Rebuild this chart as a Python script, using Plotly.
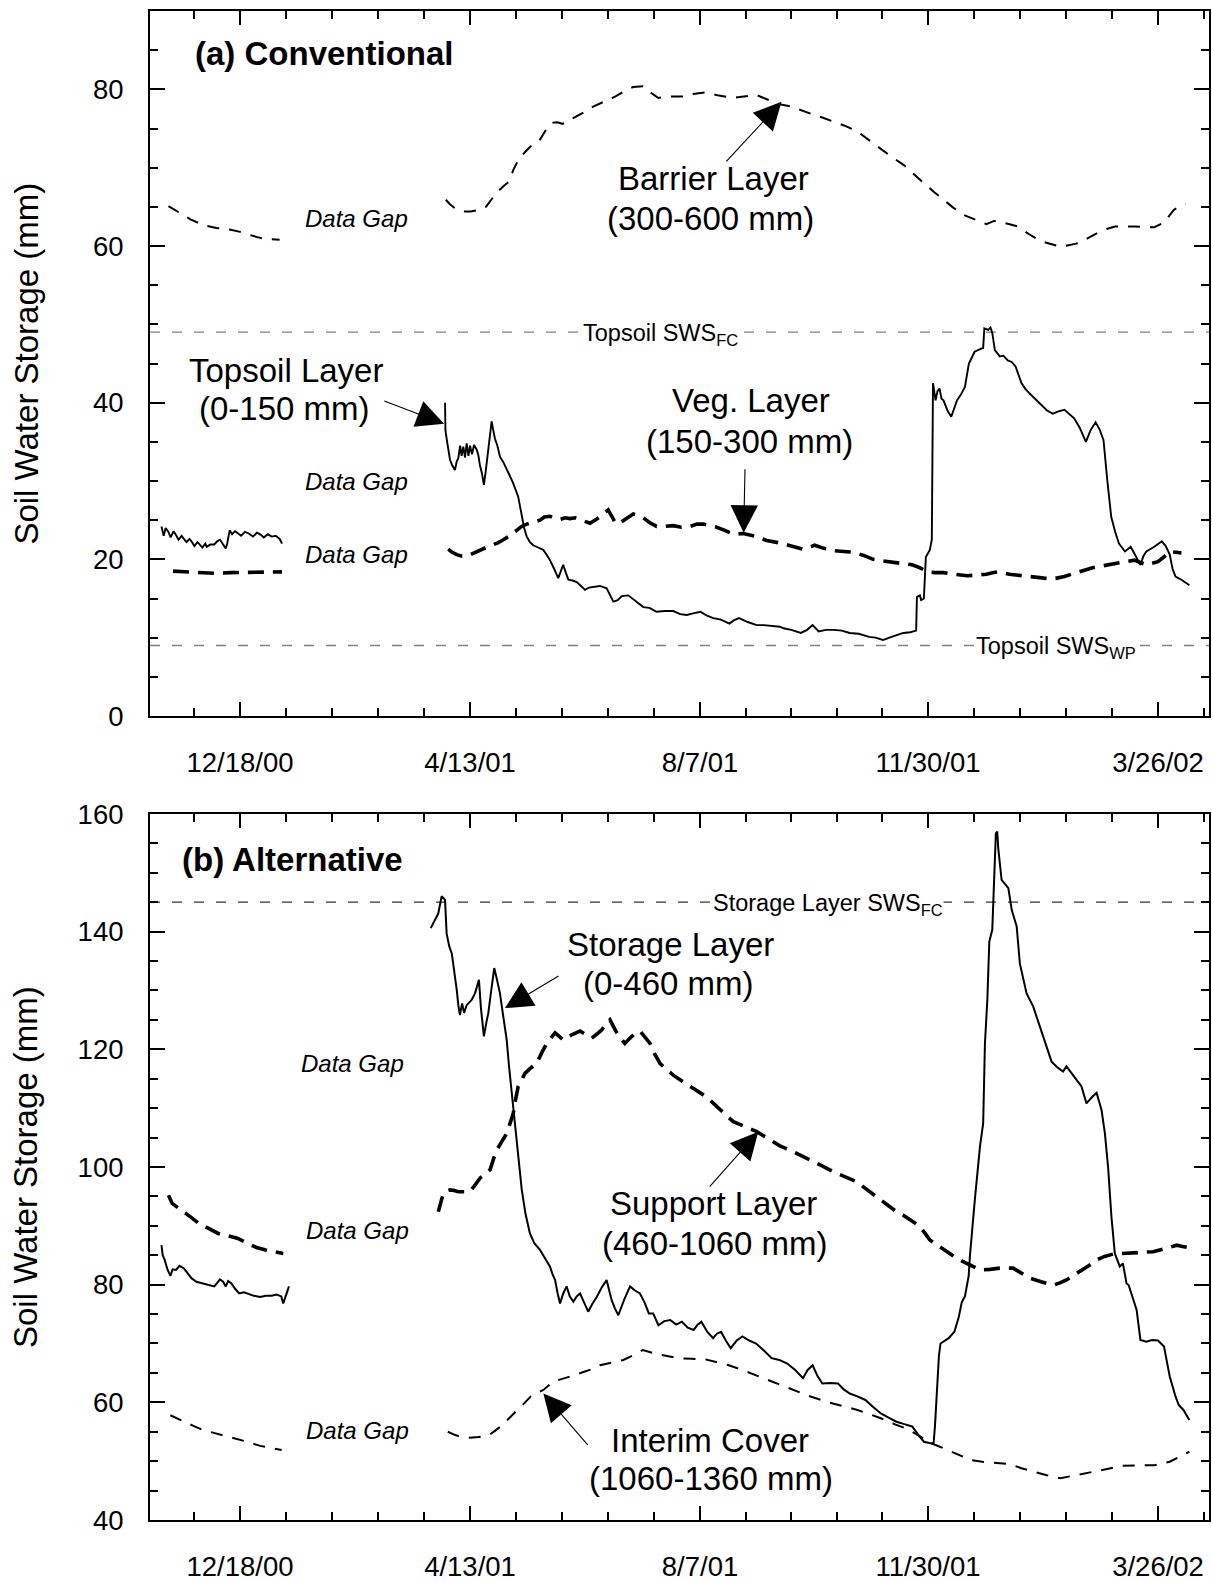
import plotly.graph_objects as go

# ---------------- data (x = days after 12/18/00) ----------------
tick_days = [0, 116, 232, 347, 463]
tick_labels = ["12/18/00", "4/13/01", "8/7/01", "11/30/01", "3/26/02"]

# Panel (a) Conventional
topsoil_days = [-39.6, -38.5, -37.5, -36.1, -35, -33.5, -32.3, -31, -29.5, -28.4, -27, -25.5, -24.5, -23, -21.5,
                -20.7, -19, -17.5, -16.8, -15, -13, -11.5, -10.1, -8.5, -7.2, -6.5, -5.2, -4, -2.5, -1.4, 0.5, 2.5,
                4.4, 6.5, 8.5, 10.2, 12, 14, 16, 18, 20, 21.2, None,
                103.4, 103.6, 104.2, 105.0, 105.9, 107, 108.4, 109.3, 110.1, 111, 111.8, 112.6, 113.5, 114.3, 115.2,
                116, 117, 118, 119.4, 120.2, 121, 122, 123, 123.8, 124.4, 125.5, 126.9, 127.7, 128.6, 129.8, 131.1,
                132.8, 134.5, 136, 137.8, 139, 140.3, 141.2, 142.1, 143.3, 144.6, 146.2, 147.9, 150.5, 153, 154.6,
                156.3, 158.4, 160.5, 161.8, 163, 164.3, 165.6, 167.7, 169.8, 172, 174, 176, 178.2, 181.5, 184.9,
                186.5, 188.3, 190.5, 192.5, 195.8, 199.5, 203.4, 206.5, 210.1, 214, 218.5, 222, 225.3, 228.5, 232.3,
                235.5, 238.7, 242.5, 246.8, 249, 251.7, 256, 260.6, 264.2, 268, 272.3, 274.1, 278, 282.9, 286,
                288.8, 290.5, 291.8, 295.5, 299.6, 303.5, 307.5, 312, 317.3, 320.5, 324.3, 327.5, 331.1, 334.5, 338,
                341, 341.4, 342.9, 343.5, 344.9, 345.9, 347.9, 348.9, 349.5, 350.8, 351.8, 352.8, 353.8, 354.8,
                356.8, 358.7, 360.2, 361.6, 363.5, 365.6, 367.6, 370.5, 373, 374.8, 375.4, 377.4, 378.5, 379.4,
                380.7, 383.2, 385, 387.2, 389.2, 391.2, 394.1, 396, 398.1, 401, 404, 407, 409.9, 412.8, 415.8, 418.3,
                420.7, 423.5, 426.6, 429, 431.5, 433.5, 435.5, 437.4, 439.4, 441.4, 443.3, 446.3, 449.2, 451.6,
                454.1, 455.6, 457.1, 461.1, 464.9, 466.9, 468.9, 470.3, 471.8, 474.8, 476.8, 478.8]
topsoil_vals = [24.2, 23.0, 24.0, 23.5, 22.8, 23.6, 23.1, 22.5, 23.0, 22.7, 22.2, 22.6, 22.3, 21.7, 22.2,
                22.0, 21.5, 22.0, 21.6, 21.9, 21.9, 22.3, 22.5, 21.9, 21.4, 22.0, 23.7, 23.2, 23.6, 23.4, 23.0, 23.5,
                23.3, 22.9, 23.4, 23.2, 22.8, 23.2, 22.9, 23.0, 22.6, 22.0, None,
                40.0, 36.5, 35.4, 34.0, 32.7, 32.0, 31.4, 32.5, 32.9, 34.5, 33.2, 34.4, 33.0, 34.8, 33.2,
                34.5, 33.4, 34.6, 34.0, 33.3, 32.0, 31.0, 29.5, 31.0, 32.3, 35.0, 37.6, 36.5, 35.4, 34.5, 33.1,
                32.4, 31.6, 30.7, 29.7, 28.9, 28.0, 26.8, 25.4, 24.0, 22.9, 22.2, 21.8, 21.5, 21.2, 20.6,
                19.9, 18.8, 17.6, 18.5, 19.3, 18.3, 17.4, 17.3, 17.1, 16.6, 16.1, 16.4, 16.5, 16.6, 16.3,
                15.4, 14.6, 14.8, 15.3, 15.4, 14.7, 13.9, 13.8, 13.3, 13.4, 13.4, 13.0, 12.9, 13.1, 13.3,
                12.8, 12.5, 12.3, 11.8, 12.2, 12.5, 12.0, 11.6, 11.6, 11.5, 11.4, 11.2, 11.0, 10.6, 11.0,
                11.6, 11.2, 10.8, 11.0, 11.0, 10.9, 10.6, 10.5, 10.1, 10.0, 9.7, 10.0, 10.3, 10.6, 10.7,
                10.9, 15.2, 15.4, 14.8, 15.0, 20.3, 21.2, 22.5, 42.5, 40.3, 41.5, 41.8, 40.5, 40.3,
                39.0, 38.2, 39.2, 40.3, 41.0, 42.0, 45.0, 46.5, 46.8, 47.0, 49.5, 49.3, 49.6, 48.9,
                46.7, 45.9, 46.0, 45.4, 45.2, 44.6, 42.5, 41.8, 41.2, 40.5, 39.7, 39.0, 38.6, 38.9, 39.1, 38.6,
                38.0, 36.8, 35.0, 36.5, 37.5, 36.6, 35.2, 30.1, 25.4, 23.5, 22.0, 21.0, 21.6, 20.5,
                19.3, 20.4, 21.0, 21.6, 22.3, 21.7, 20.6, 18.8, 17.8, 17.4, 17.1, 16.7]

veg_days = [-33.8, -28, -20, -12, -5, 0, 8, 15, 21.2, None,
            105, 107, 109.3, 112, 114.3, 117.5, 121, 124, 126.9, 130, 132.8, 136, 139.5, 142, 144.6, 148, 151.3,
            153.5, 156.3, 159, 161.4, 164, 166.4, 169, 171.5, 174, 176.5, 179, 181.5, 183.5, 185.7, 187.5, 189,
            190.7, 193, 195.8, 198.3, 200.5, 203.4, 206.5, 210.1, 214, 218.5, 222.5, 226.9, 230.5, 233.6, 237,
            240.4, 244.5, 248.8, 253.8, 257, 260.6, 265.6, 272.1, 278, 283.9, 286.5, 289.8, 294.5, 299.6, 304.5,
            309.4, 314.5, 319.3, 324, 329.1, 334, 339, 343, 346.9, 350.5, 354.8, 360.5, 366.6, 371.5, 376.4,
            379.5, 382.3, 388, 394.1, 398, 402, 405.5, 409.9, 413, 415.8, 420.5, 425.6, 429.5, 433.5, 438.5,
            443.3, 447.5, 451.2, 454, 457.1, 460, 463, 466, 468.9, 472, 474.8]
veg_vals = [18.5, 18.4, 18.3, 18.2, 18.3, 18.3, 18.3, 18.4, 18.4, None,
            21.3, 20.9, 20.6, 20.4, 20.4, 20.8, 21.2, 21.5, 21.8, 22.1, 22.5, 23.0, 23.7, 24.2, 24.5, 24.7, 25.0,
            25.4, 25.5, 25.2, 25.1, 25.3, 25.2, 25.3, 25.1, 24.9, 24.6, 25.0, 25.4, 25.9, 26.3, 25.5, 24.8,
            24.5, 24.9, 25.4, 25.8, 25.6, 25.3, 24.7, 24.2, 24.2, 24.3, 24.1, 24.2, 24.5, 24.5, 24.3,
            24.1, 23.7, 23.2, 23.3, 23.1, 22.9, 22.4, 22.1, 21.7, 21.3, 21.5, 21.8, 21.4, 21.1, 21.0,
            20.9, 20.5, 20.0, 19.8, 19.6, 19.4, 19.3, 18.9, 18.4, 18.3, 18.3, 18.1, 17.9, 18.0, 18.1,
            18.3, 18.4, 18.1, 17.9, 17.8, 17.7, 17.6, 17.5, 17.6, 17.8, 18.2, 18.6, 18.9, 19.1, 19.3,
            19.5, 19.7, 19.9, 19.6, 19.3, 19.5, 19.7, 20.3, 21.0, 20.9, 20.8]

barrier_days = [-36.1, -33, -30.3, -25, -18.8, -12, -5.2, 0, 6.4, 12.1, 20, None,
                103.8, 106, 108, 110.6, 113.5, 116.3, 120, 124, 127, 129.8, 132.7, 135.6, 138, 140.4, 143.8,
                147.2, 151.1, 154, 156.9, 160, 162.7, 166.5, 170.4, 174.3, 178.1, 181.5, 185.5, 189.4, 194,
                198.3, 203.2, 207, 211, 216.5, 222.9, 228.5, 234.7, 241.5, 248.5, 254.5, 260.3, 266, 272.1,
                278, 282.9, 287.8, 293.7, 299.6, 305.5, 311.4, 317.3, 323.2, 329.1, 335, 340, 344.9, 350,
                354.8, 359.7, 364.6, 370.5, 376.4, 380.3, 386.2, 392.1, 398, 404, 408.9, 413.8, 417.8, 421.7,
                427.6, 433.5, 437.4, 441.3, 446.2, 451.2, 456.1, 461.1, 466, 468.5, 470.9, 473.9, 476.8]
barrier_vals = [65.1, 64.6, 64.2, 63.4, 62.7, 62.3, 62.1, 61.8, 61.3, 60.9, 60.8, None,
                65.9, 65.3, 64.9, 64.6, 64.4, 64.4, 64.6, 65.0, 66.0, 66.9, 67.6, 68.2, 69.8, 71.0, 72.0,
                72.9, 73.5, 74.7, 75.7, 75.8, 75.6, 76.1, 76.7, 77.2, 77.8, 78.2, 78.7, 79.1, 79.8,
                80.3, 80.4, 79.6, 78.9, 79.1, 79.1, 79.4, 79.6, 79.2, 78.9, 79.1, 79.3, 78.7, 78.1,
                77.8, 77.3, 76.9, 76.4, 75.9, 75.3, 74.6, 73.5, 72.3, 71.3, 70.3, 69.1, 68.0, 66.9,
                65.9, 64.9, 64.0, 63.4, 62.8, 63.2, 62.9, 62.5, 61.5, 60.6, 60.2, 59.9, 60.1, 60.3,
                61.0, 61.8, 62.2, 62.5, 62.5, 62.5, 62.4, 62.4, 63.0, 63.8, 64.6, 65.1, 65.4]

topsoil_fc = 49.0
topsoil_wp = 9.0

# Panel (b) Alternative
storage_days = [-39.6, -39, -38, -36.5, -35.1, -34, -32.3, -30.5, -28.4, -26.5, -24.5, -22, -18.8, -16, -13,
                -11.5, -10.1, -8.5, -7.2, -6, -4.3, -2.5, -0.4, 2, 4.4, 7, 10.2, 13, 16, 18.5, 20.8, 21.8, 23,
                24.7, None,
                96.2, 98, 100, 101.7, 103.4, 104.2, 105.5, 106.8, 108, 109.3, 110.1, 110.9, 112, 113, 114.3,
                115.5, 116.8, 118.5, 120.5, 121.5, 123, 124.2, 125.2, 126.7, 128.2, 129.5, 131.1, 132.8, 134.5,
                135.7, 137, 138.2, 139.5, 140.8, 142.1, 144, 146.2, 148.5, 151.3, 153.8, 156.3, 157.6, 158.9,
                160.2, 161.4, 163, 164.7, 166.3, 168.1, 169.8, 171.5, 173.5, 175.6, 177.8, 179.9, 182.4, 184.9,
                186.2, 187.4, 189, 190.8, 193.8, 196.7, 199.2, 201.7, 204, 206.2, 208.4, 211, 214, 217, 220,
                222.9, 225.8, 228.8, 230.8, 232.7, 235.6, 238.6, 240.6, 242.6, 245, 247.5, 250.5, 253.4, 256.8,
                260.3, 264.2, 268.1, 272, 276, 280, 283.9, 286.3, 288.8, 291.2, 293.7, 297.6, 301.6, 304.5,
                307.5, 311.4, 315.4, 319.3, 323.2, 327.1, 331.1, 335, 339, 342, 344.9, 347.5, 349.8,
                350.5, 351.5, 352.5, 353.3, 355.5, 357.4, 360.3, 362.5, 364, 365.6, 367.5, 368.1, 370.6, 373.2,
                374.8, 375.7, 376.9, 377.9, 379.4, 380.2, 381.2, 381.9, 382.4, 384.1, 387.5, 389.2, 391.7, 393.3,
                396.7, 400, 403.4, 406.7, 409.3, 412, 415.1, 416.8, 419.5, 421.9, 424.4, 426.9, 429.5, 432,
                434.5, 436.2, 437.8, 439.5, 441.2, 443.7, 445.3, 447.1, 448.2, 450.4, 452.2, 454.1, 457.1, 460,
                463, 466, 468.9, 471.8, 473.5, 475.8, 477.5, 478.8]
storage_vals = [86.7, 85.0, 84.2, 82.5, 81.5, 82.6, 82.5, 83.2, 82.8, 81.9, 81.1, 80.5, 80.2, 80.0, 79.7,
                80.3, 80.9, 80.5, 79.7, 80.6, 80.2, 79.3, 78.5, 78.7, 78.4, 78.1, 77.9, 78.1, 78.1, 78.3, 78.0, 76.8,
                78.0, 79.7, None,
                140.6, 141.8, 143.1, 146.0, 145.4, 139.7, 137.5, 136.3, 133.5, 130.1, 127.5, 125.8, 127.8, 126.2,
                127.5, 128.0, 128.4, 129.5, 131.8, 127.0, 122.2, 124.5, 126.1, 130.0, 133.8, 132.0, 129.5, 125.5,
                121.6, 117.0, 112.5, 108.5, 104.6, 100.2, 96.1, 92.0, 88.7, 87.0, 85.9, 84.5, 83.1, 81.8, 80.8,
                78.5, 76.8, 78.5, 79.7, 78.0, 77.1, 78.0, 78.5, 77.0, 75.4, 76.8, 77.9, 79.5, 80.8,
                79.0, 77.4, 76.0, 74.8, 77.5, 79.7, 79.0, 78.5, 77.0, 75.1, 75.1, 73.1, 73.8, 74.0, 73.2,
                73.7, 72.7, 72.3, 73.2, 73.7, 72.0, 70.9, 71.7, 72.0, 70.5, 69.2, 70.5, 71.2, 70.5,
                70.0, 68.8, 67.5, 67.2, 66.6, 65.5, 64.1, 65.5, 66.3, 64.5, 63.2, 63.3, 63.2, 62.2,
                61.5, 61.0, 60.4, 59.2, 58.1, 57.4, 56.7, 56.3, 55.9, 54.5, 53.3, 53.1, 53.0,
                56.0, 63.0, 68.0, 70.0, 70.5, 70.9, 72.0, 74.5, 77.0, 78.0, 81.5, 84.8, 94.4, 103.5,
                107.4, 121.0, 128.4, 138.3, 140.3, 147.1, 156.7, 157.0, 154.2, 148.8, 147.4, 143.7, 140.9, 134.6,
                129.5, 127.3, 123.9, 120.7, 117.9, 117.0, 116.2, 117.1, 115.8, 114.8, 113.7, 110.8, 111.8, 112.6,
                109.7, 105.7, 100.0, 91.5, 85.3, 83.1, 83.6, 80.2, 79.9, 77.7, 75.7, 70.6, 70.3, 70.6,
                70.5, 69.5, 64.4, 61.0, 59.5, 58.7, 57.6, 57.0]

support_days = [-36.1, -34.2, -31, -28.4, -24.5, -20.7, -16, -11, -6, -1.4, 3.5, 8.3, 13, 17.5, 21.8, None,
                100, 101.2, 102.5, 104, 105.9, 108, 110.1, 113, 116, 118.5, 121, 123.5, 126.1, 128, 129.5, 132,
                134.5, 136.2, 137.8, 139, 140.3, 142, 143.7, 146.5, 149.6, 152, 154.7, 156.8, 158.9, 161, 163,
                167, 171.5, 174.5, 177.4, 180, 182.4, 184.5, 186.6, 188.3, 190, 192, 194.1, 196.7, 199, 201.7,
                204.2, 206.8, 209, 211.8, 215, 218.5, 222.5, 226.9, 231, 235.3, 238.8, 242.1, 245.5, 248.8,
                254.5, 260.6, 264, 267.3, 272.3, 279, 284, 289.1, 294, 299.2, 305, 311, 316, 321.1, 326.2,
                330.3, 334.5, 338.7, 342.9, 347.9, 352, 356.4, 360.5, 364.7, 369, 373.2, 378.2, 383.2, 389.9,
                394, 398.4, 404, 410.1, 413.5, 416.8, 420, 423.6, 428, 432, 436, 440.4, 444.6, 448.8, 454.5,
                460.6, 466.5, 472.4, 475.3, 478.2]
support_vals = [95.2, 93.8, 93.0, 92.4, 91.4, 90.4, 89.5, 88.7, 88.3, 87.9, 87.1, 86.3, 85.9, 85.6, 85.3, None,
                92.4, 94.2, 95.5, 95.9, 96.1, 96.0, 95.8, 95.8, 95.8, 96.9, 98.1, 98.8, 99.5, 101.5, 102.9, 104.3,
                105.7, 107.4, 109.1, 111.5, 113.7, 114.8, 115.9, 116.8, 117.6, 119.3, 121.0, 121.9, 122.8, 122.2,
                121.6, 122.4, 123.1, 122.5, 121.9, 122.6, 123.3, 124.2, 125.0, 123.9, 122.8, 121.9, 121.0, 121.9,
                122.6, 123.1, 122.0, 121.0, 119.3, 117.6, 116.6, 115.6, 114.7, 113.7, 112.8, 111.9, 110.8, 109.7,
                108.7, 107.7, 106.9, 106.0, 105.3, 104.6, 103.6, 102.6, 101.8, 101.0, 100.1, 99.2, 98.3, 97.5,
                96.2, 94.9, 93.5, 92.6, 91.8, 90.8, 89.9, 87.6, 86.6, 85.6, 84.7, 83.9, 83.2, 82.5, 82.6, 82.8,
                82.8, 81.9, 81.1, 80.5, 79.9, 80.3, 80.8, 81.5, 82.2, 83.2, 84.2, 84.8, 85.2, 85.3, 85.4, 85.5,
                85.6, 86.1, 86.7, 86.5, 86.3]

interim_days = [-35.1, -31.5, -28.4, -23.5, -18.8, -12, -5.2, 2.5, 10.2, 14.5, 18.9, 21, None,
                104.8, 108, 111.5, 116, 120.2, 125, 128.4, 131.8, 136.6, 139.5, 142.4, 147.2, 153, 157.8, 162,
                166.5, 172.8, 179, 181.5, 187.4, 193.3, 198.3, 203.2, 209.1, 215, 220.9, 227.8, 234.7, 240.6,
                246.5, 253.4, 260.3, 267.2, 274.1, 280, 285.9, 295.7, 303.5, 311.4, 317.3, 323.2, 330, 337, 343,
                348.9, 354.8, 361.7, 368.5, 374.4, 380.3, 388.2, 394.1, 400, 406.9, 413.8, 421.7, 429.5, 437.4,
                445.3, 453.2, 461.1, 465, 468.9, 474, 478.8]
interim_vals = [57.8, 57.2, 56.7, 56.0, 55.3, 54.7, 54.1, 53.4, 52.6, 52.3, 52.0, 51.9, None,
                55.0, 54.5, 54.1, 54.0, 54.1, 54.3, 55.1, 56.0, 57.6, 58.5, 59.5, 61.2, 62.1, 63.5, 63.9,
                64.4, 65.1, 65.8, 66.3, 66.8, 67.2, 68.0, 68.9, 68.3, 67.9, 67.5, 67.4, 67.3, 66.8,
                66.3, 65.5, 64.6, 63.7, 62.8, 62.0, 61.2, 60.1, 59.4, 58.7, 58.0, 57.3, 56.3, 55.4, 54.2,
                53.0, 52.2, 51.2, 50.2, 49.9, 49.7, 49.5, 48.8, 48.2, 47.6, 47.1, 47.6, 48.2, 48.7,
                49.2, 49.3, 49.3, 49.6, 49.9, 50.8, 51.6]

storage_fc = 145.0

# ---------------- figure ----------------
FONT = "Liberation Sans, Arial, sans-serif"
X_RANGE = [-45.4, 488.7]

minor_days = [tick_days[0] - (tick_days[1] - tick_days[0]) / 5]
for a, b in zip(tick_days[:-1], tick_days[1:]):
    minor_days += [a + k * (b - a) / 5 for k in range(1, 5)]
minor_days.append(tick_days[-1] + (tick_days[-1] - tick_days[-2]) / 5)

fig = go.Figure()

def add(xs, ys, xa, ya, width, dash):
    fig.add_trace(go.Scatter(x=xs, y=ys, xaxis=xa, yaxis=ya, mode="lines",
                             line=dict(color="black", width=width, dash=dash),
                             connectgaps=False, showlegend=False, hoverinfo="skip"))

add(barrier_days, barrier_vals, "x", "y", 2, "12px,10px")
add(veg_days, veg_vals, "x", "y", 3.6, "16px,9px")
add(topsoil_days, topsoil_vals, "x", "y", 1.9, "solid")

add(interim_days, interim_vals, "x2", "y2", 2, "12px,10px")
add(support_days, support_vals, "x2", "y2", 3.6, "16px,9px")
add(storage_days, storage_vals, "x2", "y2", 2, "solid")

# reference lines
fig.add_shape(type="line", xref="x", yref="y", x0=X_RANGE[0], x1=X_RANGE[1], y0=topsoil_fc, y1=topsoil_fc,
              line=dict(color="#808080", width=1.3, dash="10px,12px"), layer="below")
fig.add_shape(type="line", xref="x", yref="y", x0=X_RANGE[0], x1=X_RANGE[1], y0=topsoil_wp, y1=topsoil_wp,
              line=dict(color="#808080", width=1.3, dash="10px,12px"), layer="below")
fig.add_shape(type="line", xref="x2", yref="y2", x0=X_RANGE[0], x1=X_RANGE[1], y0=storage_fc, y1=storage_fc,
              line=dict(color="#333333", width=1.2, dash="10px,12px"), layer="below")

axis_common = dict(showline=True, linewidth=2, linecolor="black", mirror="ticks", showgrid=False,
                   zeroline=False, ticks="inside", tickwidth=2, tickcolor="black", automargin=False,
                   tickfont=dict(family=FONT, size=27.5, color="black"))

xcfg = dict(axis_common, range=X_RANGE, tickmode="array", tickvals=tick_days, ticktext=tick_labels,
            ticklen=14, ticklabelstandoff=21,
            minor=dict(tickmode="array", tickvals=minor_days, ticks="inside", ticklen=8, tickwidth=2,
                       tickcolor="black", showgrid=False))

fig.update_layout(
    width=1212, height=1581,
    margin=dict(l=150, r=3, t=11, b=61, autoexpand=False),
    paper_bgcolor="white", plot_bgcolor="white",
    font=dict(family=FONT, color="black"),
    xaxis=dict(xcfg, domain=[0, 1], anchor="y"),
    yaxis=dict(axis_common, domain=[0.5328, 1.0], range=[0, 90], tickmode="array",
               tickvals=[0, 20, 40, 60, 80], ticklen=15, ticklabelstandoff=19, anchor="x",
               minor=dict(dtick=5, tick0=0, ticks="inside", ticklen=8, tickwidth=2, tickcolor="black",
                          showgrid=False)),
    xaxis2=dict(xcfg, domain=[0, 1], anchor="y2"),
    yaxis2=dict(axis_common, domain=[0, 0.4679], range=[40, 160], tickmode="array",
                tickvals=[40, 60, 80, 100, 120, 140, 160], ticklen=15, ticklabelstandoff=19, anchor="x2",
                minor=dict(dtick=5, tick0=0, ticks="inside", ticklen=8, tickwidth=2, tickcolor="black",
                           showgrid=False)),
)

ann = []

def text(x, y, t, xr, yr, size, xanchor="center", yanchor="middle", bg=None, yshift=5):
    d = dict(x=x, y=y, xref=xr, yref=yr, text=t, showarrow=False, xanchor=xanchor, yanchor=yanchor,
             font=dict(family=FONT, size=size, color="black"), yshift=yshift)
    if bg:
        d.update(bgcolor=bg, borderpad=0)
    ann.append(d)

def arrow(hx, hy, tx, ty, xr, yr):
    ann.append(dict(x=hx, y=hy, ax=tx, ay=ty, xref=xr, yref=yr, axref=xr, ayref=yr, text="",
                    showarrow=True, arrowhead=2, arrowsize=5.0, arrowwidth=1.1, arrowcolor="black",
                    standoff=0, startstandoff=0))

# axis titles
for yr in ["y domain", "y2 domain"]:
    ann.append(dict(x=-0.117, y=0.5, xref="paper", yref=yr, text="Soil Water Storage (mm)", textangle=-90,
                    showarrow=False, xanchor="center", yanchor="middle",
                    font=dict(family=FONT, size=33, color="black")))

LBL = 33
GAP = 24
SWS = 23.5

# panel (a)
text(-23.7, 83.75, "<b>(a) Conventional</b>", "x", "y", 33, xanchor="left", yshift=6)
text(58.5, 62.9, "<i>Data Gap</i>", "x", "y", GAP)
text(58.5, 29.3, "<i>Data Gap</i>", "x", "y", GAP)
text(58.5, 20.0, "<i>Data Gap</i>", "x", "y", GAP)
text(239.0, 68.0, "Barrier Layer", "x", "y", LBL)
text(237.5, 62.9, "(300-600 mm)", "x", "y", LBL)
text(23.2, 43.5, "Topsoil Layer", "x", "y", LBL)
text(22.2, 38.6, "(0-150 mm)", "x", "y", LBL)
text(257.7, 39.7, "Veg. Layer", "x", "y", LBL)
text(257.2, 34.4, "(150-300 mm)", "x", "y", LBL)
text(212.3, topsoil_fc, "Topsoil SWS<sub>FC</sub>", "x", "y", SWS, bg="white", yshift=-2)
text(411.7, topsoil_wp, "Topsoil SWS<sub>WP</sub>", "x", "y", SWS, bg="white", yshift=-2)
arrow(273.1, 78.4, 244.6, 70.6, "x", "y")
arrow(102.9, 37.3, 72.0, 40.3, "x", "y")
arrow(254.0, 23.4, 254.7, 31.7, "x", "y")

# panel (b)
text(-30.3, 151.3, "<b>(b) Alternative</b>", "x2", "y2", 33, xanchor="left", yshift=6)
text(56.5, 116.8, "<i>Data Gap</i>", "x2", "y2", GAP)
text(59.0, 88.4, "<i>Data Gap</i>", "x2", "y2", GAP)
text(59.0, 54.3, "<i>Data Gap</i>", "x2", "y2", GAP)
text(217.3, 136.9, "Storage Layer", "x2", "y2", LBL)
text(216.3, 130.4, "(0-460 mm)", "x2", "y2", LBL)
text(239.0, 93.0, "Support Layer", "x2", "y2", LBL)
text(239.5, 86.2, "(460-1060 mm)", "x2", "y2", LBL)
text(237.0, 52.7, "Interim Cover", "x2", "y2", LBL)
text(237.5, 46.2, "(1060-1360 mm)", "x2", "y2", LBL)
text(296.5, storage_fc, "Storage Layer SWS<sub>FC</sub>", "x2", "y2", SWS, bg="white", yshift=-2)
arrow(133.6, 127.0, 161.4, 132.6, "x2", "y2")
arrow(261.4, 106.0, 236.2, 96.4, "x2", "y2")
arrow(153.0, 61.5, 176.0, 52.5, "x2", "y2")

fig.update_layout(annotations=ann)

fig.write_html("out.html")
